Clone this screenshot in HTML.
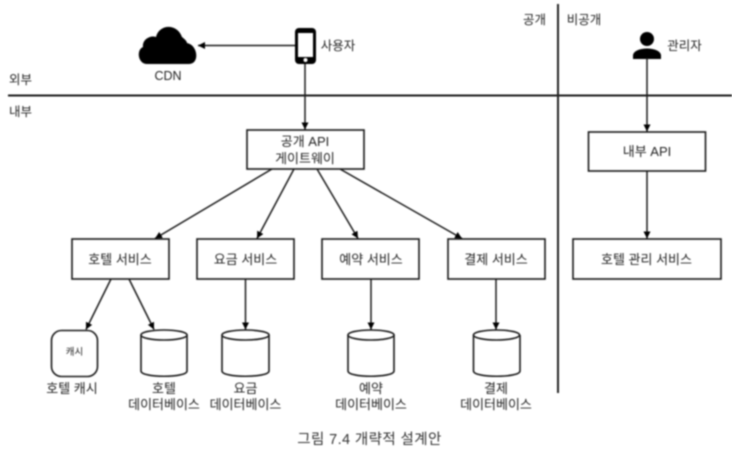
<!DOCTYPE html>
<html><head><meta charset="utf-8"><style>
html,body{margin:0;padding:0;background:#fff}
svg{display:block;filter:blur(.7px)}
text{font-family:"Liberation Sans","Noto Sans CJK KR",sans-serif;font-size:13px;fill:#222;text-anchor:middle}
.m{font-size:12.500px}
.b{fill:#fff;stroke:#1a1a1a;stroke-width:1.6}
.l{stroke:#1a1a1a;stroke-width:1.5;fill:none}
</style></head><body>
<svg width="732" height="454" viewBox="0 0 732 454" xmlns="http://www.w3.org/2000/svg">
<defs><marker id="a" markerUnits="userSpaceOnUse" markerWidth="8" markerHeight="8" refX="7" refY="3.500" orient="auto"><path d="M0 0L7 3.500L0 7Z" fill="#000"/></marker></defs>
<rect width="732" height="454" fill="#fff"/>
<path d="M8 95.500H732" stroke="#1a1a1a" stroke-width="2"/>
<path d="M558 4V393" stroke="#222" stroke-width="2"/>
<text class="m" x="20.500" y="84">외부</text><text class="m" x="20.500" y="116">내부</text>
<text class="m" x="534.500" y="24">공개</text><text class="m" x="584" y="24">비공개</text>
<!-- cloud -->
<path d="M147 64C138 64 136 50 143 47C142 39 151 35 156 37C159 24 177 23 182 37C186 40 187 42 187 43C198 45 200 64 189 64Z" fill="#000"/>
<text class="m" x="168" y="80">CDN</text>
<!-- phone -->
<rect x="295" y="28" width="21" height="36" rx="4" fill="#000"/>
<rect x="298" y="33" width="15" height="24" fill="#fff"/>
<circle cx="305.500" cy="60" r="2" fill="#fff"/>
<text class="m" x="338" y="50">사용자</text>
<path class="l" d="M295 45.500H198" marker-end="url(#a)"/>
<path class="l" d="M305 64V129.500" marker-end="url(#a)"/>
<!-- admin -->
<circle cx="647" cy="39" r="7" fill="#000"/>
<path d="M633 59V55C634 50 642 48.500 647 48.500C652 48.500 660 50 661 55V59Z" fill="#000"/>
<text class="m" x="684.500" y="50">관리자</text>
<path class="l" d="M647 58V131.500" marker-end="url(#a)"/>
<path class="l" d="M647 171V238.500" marker-end="url(#a)"/>
<!-- top boxes -->
<rect class="b" x="247" y="130" width="117" height="39"/>
<text x="305" y="146">공개 API</text><text x="305" y="163">게이트웨이</text>
<rect class="b" x="588.500" y="132" width="117" height="39"/>
<text x="647" y="156">내부 API</text>
<!-- arrows -->
<path class="l" d="M272 169L155 238.500" marker-end="url(#a)"/>
<path class="l" d="M294 169L257 238.500" marker-end="url(#a)"/>
<path class="l" d="M317 169L358 238.500" marker-end="url(#a)"/>
<path class="l" d="M340 169L462 238.500" marker-end="url(#a)"/>
<path class="l" d="M111 279L86 329.500" marker-end="url(#a)"/>
<path class="l" d="M129 279L154 329.500" marker-end="url(#a)"/>
<path class="l" d="M245.500 279V329.500" marker-end="url(#a)"/>
<path class="l" d="M371 279V329.500" marker-end="url(#a)"/>
<path class="l" d="M496 279V329.500" marker-end="url(#a)"/>
<!-- services -->
<rect class="b" x="72" y="239" width="97" height="40"/><text x="120" y="264">호텔 서비스</text>
<rect class="b" x="197" y="239" width="97" height="40"/><text x="245.500" y="264">요금 서비스</text>
<rect class="b" x="322" y="239" width="97" height="40"/><text x="371" y="264">예약 서비스</text>
<rect class="b" x="448" y="239" width="97" height="40"/><text x="496" y="264">결제 서비스</text>
<rect class="b" x="573" y="239" width="148" height="40"/><text x="646.500" y="264">호텔 관리 서비스</text>
<!-- cache -->
<rect class="b" x="51.500" y="330.500" width="46" height="46" rx="10"/>
<text x="74.500" y="355" style="font-size:9.500px">캐시</text>
<text x="72" y="393">호텔 캐시</text>
<!-- cylinders -->
<path class="b" d="M141 335V371C141 378 187 378 187 371V335"/><ellipse class="b" cx="164" cy="335" rx="23" ry="5"/>
<path class="b" d="M222 335V371C222 378 269 378 269 371V335"/><ellipse class="b" cx="245.500" cy="335" rx="23.500" ry="5"/>
<path class="b" d="M348 335V371C348 378 394 378 394 371V335"/><ellipse class="b" cx="371" cy="335" rx="23" ry="5"/>
<path class="b" d="M473.500 335V371C473.500 378 520 378 520 371V335"/><ellipse class="b" cx="496.500" cy="335" rx="23" ry="5"/>
<text x="164" y="393">호텔</text><text x="164" y="409">데이터베이스</text>
<text x="245.500" y="393">요금</text><text x="245.500" y="409">데이터베이스</text>
<text x="371" y="393">예약</text><text x="371" y="409">데이터베이스</text>
<text x="496" y="393">결제</text><text x="496" y="409">데이터베이스</text>
<text x="369.500" y="444" style="font-size:14.500px;letter-spacing:.4px;fill:#333">그림 7.4 개략적 설계안</text>
</svg>
</body></html>
